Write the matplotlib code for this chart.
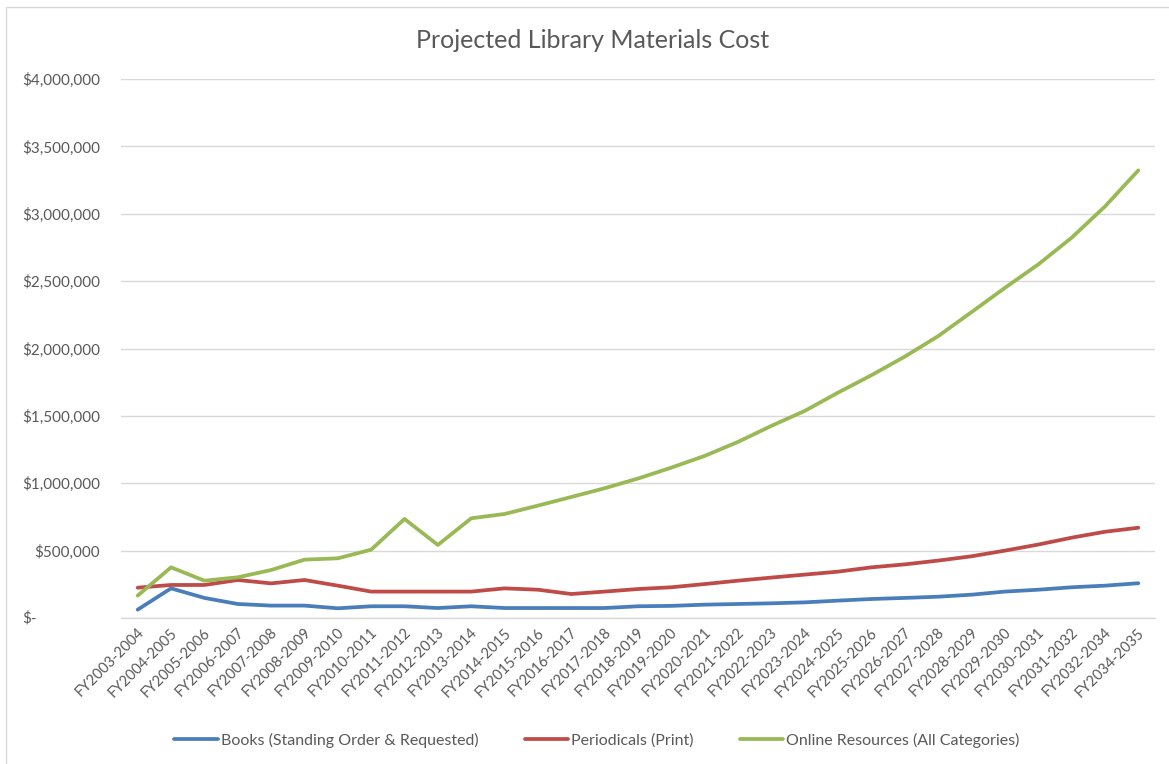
import matplotlib
matplotlib.use("Agg")
import matplotlib.pyplot as plt
from matplotlib.patches import Rectangle
from matplotlib.transforms import blended_transform_factory, ScaledTranslation
from matplotlib.ticker import FuncFormatter

plt.rcParams['font.family'] = ['Lato', 'DejaVu Sans']

years = ["FY2003-2004", "FY2004-2005", "FY2005-2006", "FY2006-2007", "FY2007-2008",
         "FY2008-2009", "FY2009-2010", "FY2010-2011", "FY2011-2012", "FY2012-2013",
         "FY2013-2014", "FY2014-2015", "FY2015-2016", "FY2016-2017", "FY2017-2018",
         "FY2018-2019", "FY2019-2020", "FY2020-2021", "FY2021-2022", "FY2022-2023",
         "FY2023-2024", "FY2024-2025", "FY2025-2026", "FY2026-2027", "FY2027-2028",
         "FY2028-2029", "FY2029-2030", "FY2030-2031", "FY2031-2032", "FY2032-2034",
         "FY2034-2035"]

books = [62000, 220000, 149000, 104000, 92000, 92000, 72000, 87000, 87000, 74000,
         87000, 74000, 74000, 74000, 74000, 87000, 90000, 99000, 104000, 109000,
         116000, 129000, 141000, 149000, 158000, 173000, 196000, 210000, 228000,
         240000, 258000]

periodicals = [225000, 245000, 245000, 282000, 257000, 282000, 240000, 196000, 196000,
               196000, 196000, 220000, 210000, 178000, 196000, 215000, 228000, 252000,
               277000, 300000, 322000, 344000, 376000, 398000, 426000, 458000, 500000,
               545000, 596000, 640000, 670000]

online = [166000, 376000, 277000, 302000, 356000, 433000, 443000, 507000, 735000,
          542000, 740000, 772000, 834000, 898000, 963000, 1035000, 1116000, 1203000,
          1307000, 1426000, 1537000, 1673000, 1802000, 1940000, 2092000, 2270000,
          2450000, 2624000, 2822000, 3054000, 3322000]

series_names = ["Books (Standing Order & Requested)", "Periodicals (Print)",
                "Online Resources (All Categories)"]
series_colors = ["#4A7EBB", "#BE4B48", "#98B954"]
title = "Projected Library Materials Cost"
y_ticks = [0, 500000, 1000000, 1500000, 2000000, 2500000, 3000000, 3500000, 4000000]

W, H = 1169, 764
fig = plt.figure(figsize=(W / 100, H / 100), dpi=100)
fig.patch.set_facecolor("white")

# chart border (left/top visible)
fig.patches.append(Rectangle((5.5 / W, -0.1), 1.2, 1.1 - 7.5 / H,
                             transform=fig.transFigure, fill=False,
                             edgecolor="#D9D9D9", linewidth=1.0))

ax = fig.add_axes([121 / W, 1 - 618 / H, (1155 - 121) / W, (618 - 79) / H])
x = list(range(len(years)))
for vals, name, col in zip([books, periodicals, online], series_names, series_colors):
    ax.plot(x, vals, color=col, linewidth=2.7, label=name,
            solid_capstyle="round", solid_joinstyle="round")

ax.set_xlim(-0.5, len(years) - 0.5)
ax.set_ylim(0, 4000000)
ax.set_yticks(y_ticks)
ax.yaxis.set_major_formatter(FuncFormatter(lambda v, p: "" if v == 0 else "${:,.0f}".format(v)))
ax.grid(axis="y", color="#D9D9D9", linewidth=1.0)
ax.set_axisbelow(True)
for s in ["top", "right", "left"]:
    ax.spines[s].set_visible(False)
ax.spines["bottom"].set_color("#D9D9D9")
ax.spines["bottom"].set_linewidth(1.0)

ax.tick_params(axis="y", length=0, pad=15, labelsize=11, labelcolor="#595959")
ax.tick_params(axis="x", length=0, pad=9, labelsize=10.5, labelcolor="#595959")
ax.set_xticks(x)
ax.set_xticklabels(years, rotation=45, ha="right", va="center", rotation_mode="anchor")
offset = ScaledTranslation(4 / 100, 0, fig.dpi_scale_trans)
for lab in ax.get_xticklabels():
    lab.set_transform(lab.get_transform() + offset)

trans = blended_transform_factory(fig.transFigure, ax.transData)
ax.text(22 / W, 0, "$-", transform=trans, ha="left", va="center",
        fontsize=11, color="#595959")

fig.text(593 / W, 1 - 40 / H, title, ha="center", va="center",
         fontsize=18, color="#595959")

fig.legend(loc="center", bbox_to_anchor=(597 / W, 1 - 740 / H), ncol=3,
           frameon=False, fontsize=11.5, handlelength=2.7, handletextpad=0.2,
           columnspacing=2.9, labelcolor="#595959")

fig.savefig("out.png", dpi=100, facecolor="white")
